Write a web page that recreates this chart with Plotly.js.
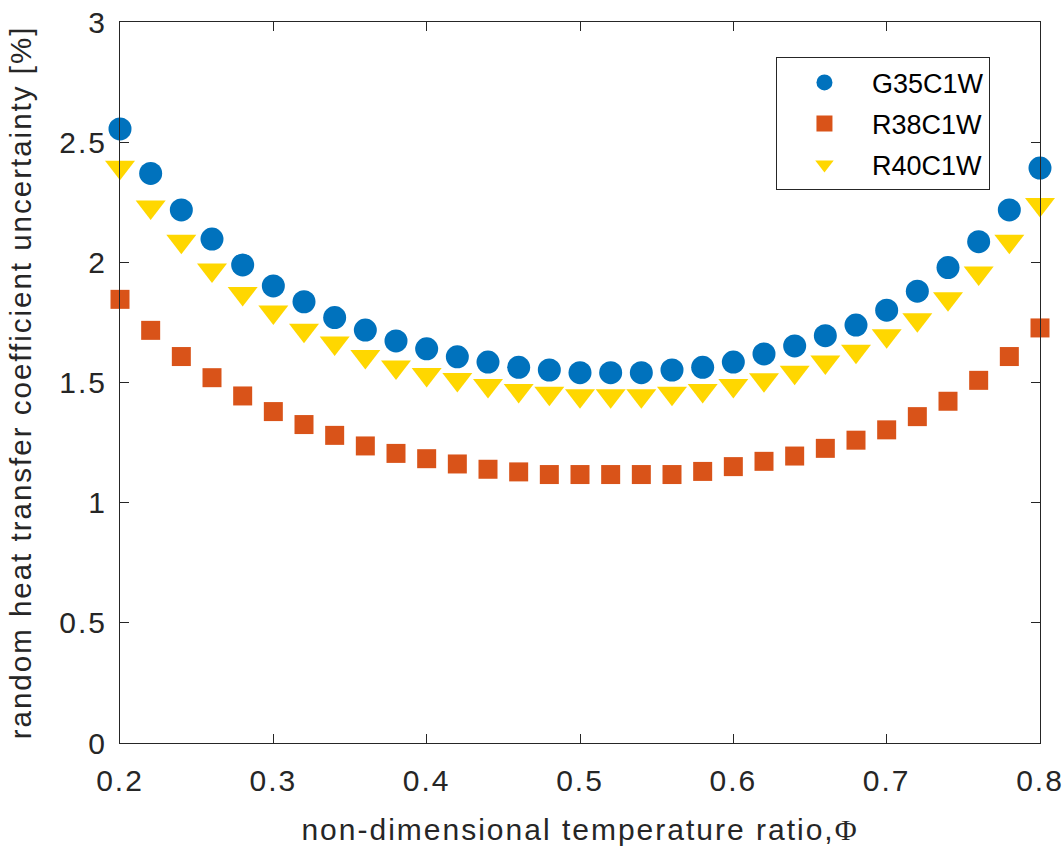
<!DOCTYPE html>
<html>
<head>
<meta charset="utf-8">
<script src="https://cdn.plot.ly/plotly-3.0.1.min.js"></script>
<style>html,body{margin:0;padding:0;background:#fff;}#chart{width:1063px;height:846px;}#chart text{letter-spacing:2px;}#chart text.legendtext{letter-spacing:0;}</style>
</head>
<body>
<div id="chart"></div>
<script>
const phi = [0.20,0.22,0.24,0.26,0.28,0.30,0.32,0.34,0.36,0.38,0.40,0.42,0.44,0.46,0.48,0.50,0.52,0.54,0.56,0.58,0.60,0.62,0.64,0.66,0.68,0.70,0.72,0.74,0.76,0.78,0.80];
const G35C1W = [2.555,2.370,2.218,2.097,1.989,1.902,1.836,1.770,1.718,1.673,1.640,1.607,1.585,1.563,1.552,1.541,1.541,1.541,1.552,1.563,1.585,1.619,1.652,1.695,1.739,1.801,1.880,1.978,2.086,2.218,2.392];
const R38C1W = [1.846,1.717,1.608,1.520,1.444,1.379,1.325,1.280,1.236,1.205,1.183,1.161,1.139,1.128,1.117,1.117,1.117,1.117,1.117,1.130,1.150,1.172,1.194,1.226,1.260,1.303,1.358,1.422,1.509,1.608,1.727];
const R40C1W = [2.396,2.230,2.088,1.968,1.870,1.793,1.717,1.664,1.608,1.564,1.533,1.512,1.488,1.467,1.455,1.445,1.445,1.445,1.455,1.467,1.488,1.511,1.543,1.585,1.630,1.695,1.761,1.848,1.956,2.088,2.241];
const seriesNames = ['G35C1W','R38C1W','R40C1W'];
const yTicks = [0,0.5,1,1.5,2,2.5,3];
const yTickText = ['0','0.5','1','1.5','2','2.5','3'];
const xTicks = [0.2,0.3,0.4,0.5,0.6,0.7,0.8];
const xTickText = ['0.2','0.3','0.4','0.5','0.6','0.7','0.8'];

const FONT = 'Liberation Sans, Arial, sans-serif';
const AX = '#262626';

const traces = [
  {x: phi, y: G35C1W, name: seriesNames[0], mode: 'markers', type: 'scatter', cliponaxis: false, legendgroup: 'a',
   marker: {symbol: 'circle', size: 23, color: '#0072BD'}},
  {x: phi, y: R38C1W, name: seriesNames[1], mode: 'markers', type: 'scatter', cliponaxis: false, legendgroup: 'b',
   marker: {symbol: 'square', size: 19, color: '#D95319'}},
  {x: phi, y: R40C1W, name: seriesNames[2], mode: 'markers', type: 'scatter', cliponaxis: false, legendgroup: 'c',
   marker: {symbol: 'triangle-down', size: 26, color: '#FFD700'}}
];

const layout = {
  width: 1063, height: 846,
  margin: {l: 120, r: 23, t: 22, b: 103},
  paper_bgcolor: '#ffffff', plot_bgcolor: '#ffffff',
  font: {family: FONT, color: AX},
  showlegend: true,
  legend: {x: 0.713, y: 0.951, xanchor: 'left', yanchor: 'top',
    bordercolor: AX, borderwidth: 1, bgcolor: '#ffffff',
    font: {size: 27, family: FONT, color: '#000'}, itemwidth: 85, tracegroupgap: 3, entrywidth: 150},
  xaxis: {range: [0.2, 0.8], tickvals: xTicks, ticktext: xTickText, ticks: 'inside', ticklen: 9,
    tickcolor: AX, linecolor: AX, linewidth: 1, mirror: 'ticks', showgrid: false, zeroline: false,
    tickfont: {size: 30, family: FONT, color: AX}, automargin: false, ticklabelstandoff: 11,
    title: {text: 'non-dimensional temperature ratio,<span style="font-family:Liberation Serif">Φ</span>', font: {size: 30, family: FONT, color: AX}, standoff: 22}},
  yaxis: {range: [0, 3], tickvals: yTicks, ticktext: yTickText, ticks: 'inside', ticklen: 9,
    tickcolor: AX, linecolor: AX, linewidth: 1, mirror: 'ticks', showgrid: false, zeroline: false,
    tickfont: {size: 30, family: FONT, color: AX}, automargin: false, ticklabelstandoff: 6,
    title: {text: 'random heat transfer coefficient uncertainty [%]', font: {size: 29.5, family: FONT, color: AX}, standoff: 24}}
};

Plotly.newPlot('chart', traces, layout, {displayModeBar: false, staticPlot: true});
</script>
</body>
</html>
